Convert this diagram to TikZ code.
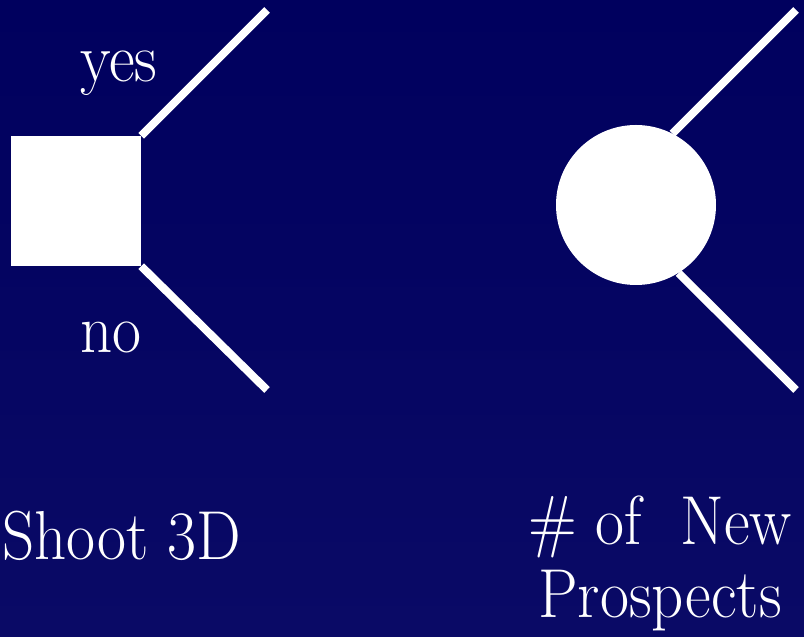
\documentclass[tikz,border=0pt]{standalone}
\usepackage{tikz}
\usetikzlibrary{positioning}
\definecolor{slidetop}{RGB}{0,0,94}
\definecolor{slidebot}{RGB}{10,10,102}
\newcommand{\tall}[1]{\scalebox{1}[1.1]{#1}}

\begin{document}
\begin{tikzpicture}[
    x=1pt, y=1pt,
    lbl/.style={text=white, inner sep=0pt, anchor=base west, font=\rmfamily\fontsize{63}{72}\selectfont},
    branch/.style={white, line width=8pt},
    decnode/.style={fill=white, draw=none, minimum size=130pt, inner sep=0pt},
    chancenode/.style={circle, fill=white, draw=none, minimum size=160pt, inner sep=0pt}
]
% Background
\shade[top color=slidetop, bottom color=slidebot] (0,0) rectangle (804,637);
\useasboundingbox (0,0) rectangle (804,637);

% Decision node
\node[decnode] (shoot) at (76,436) {};
\coordinate (yesend) at (267,627);
\coordinate (noend) at (267,247);
\draw[branch] (shoot.north east) -- (yesend);
\draw[branch] (shoot.south east) -- (noend);
\node[lbl] (yes) at (80,555) {\tall{yes}};
\node[lbl] (no) at (80,284) {\tall{no}};

% Chance node
\node[chancenode] (prosp) at (636,432) {};
\coordinate (upend) at (796,627);
\coordinate (downend) at (796,247);
\draw[branch] (prosp.63.6) -- (upend);
\draw[branch] (prosp.-58.3) -- (downend);

% Labels
\node[lbl] (shootlbl) at (2,77) {\tall{Shoot 3D}};
\node[lbl, anchor=base] (prosplbl) at (660,92) {\tall{\# of\ \ New}};
\node[lbl, anchor=base] (prosplbl2) at (660,19) {\tall{Prospects}};
\end{tikzpicture}
\end{document}
